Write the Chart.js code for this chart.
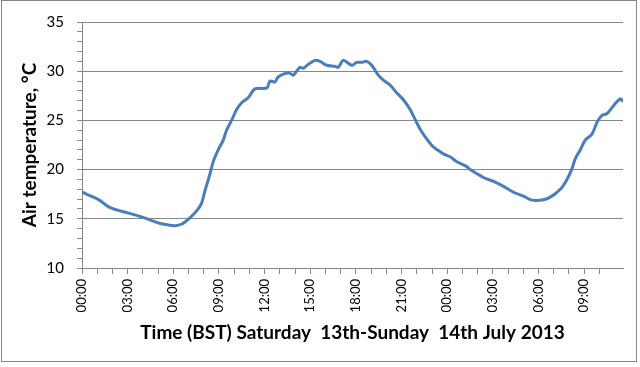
<!DOCTYPE html>
<html>
<head>
<meta charset="utf-8">
<script src="https://cdn.jsdelivr.net/npm/chart.js@4/dist/chart.umd.min.js"></script>
<style>
  html, body { margin: 0; padding: 0; background: #fff; }
  #wrap { width: 640px; height: 367px; position: relative; }
</style>
</head>
<body>
<div id="wrap"><canvas id="temp-chart"></canvas></div>
<script>
// hours since 00:00 Saturday 13th July 2013 (BST)
const hours = [
  0, 1.03, 1.9, 3.0, 4.1, 4.98, 6.08, 6.6, 7.09, 7.53, 7.86, 8.07, 8.4, 8.62, 8.95,
  9.28, 9.5, 9.83, 10.16, 10.49, 10.92, 11.36, 12.15, 12.35, 12.68, 12.88, 13.22,
  13.66, 13.88, 14.32, 14.54, 14.87, 15.31, 15.64, 16.08, 16.62, 16.84, 17.17,
  17.72, 18.05, 18.38, 18.71, 19.04, 19.47, 19.8, 20.24, 20.68, 21.12, 21.56,
  21.89, 22.22, 22.66, 23.09, 23.75, 24.19, 24.63, 25.29, 25.51, 26.38, 27.04,
  27.7, 28.36, 29.01, 29.57, 30.22, 30.77, 31.43, 31.87, 32.2, 32.41, 32.74,
  33.07, 33.51, 33.84, 34.17, 34.5, 34.93, 35.38, 35.55
];
// air temperature, degrees C
const temps = [
  17.7, 17.0, 16.1, 15.6, 15.1, 14.6, 14.3, 14.5, 15.1, 15.8, 16.6, 17.8, 19.5, 20.8, 22.0,
  23.0, 24.0, 25.0, 26.1, 26.8, 27.3, 28.2, 28.3, 29.0, 28.9, 29.4, 29.7,
  29.8, 29.6, 30.4, 30.3, 30.7, 31.1, 31.0, 30.6, 30.5, 30.4, 31.1,
  30.6, 30.9, 30.9, 31.0, 30.6, 29.6, 29.1, 28.6, 27.8, 27.1, 26.1,
  25.1, 24.1, 23.1, 22.3, 21.6, 21.3, 20.8, 20.3, 20.0, 19.2, 18.8,
  18.3, 17.7, 17.3, 16.9, 16.9, 17.2, 18.0, 19.0, 20.1, 21.1, 22.0,
  23.0, 23.6, 24.8, 25.5, 25.7, 26.5, 27.2, 26.9
];
const tickLabels = ['00:00', '03:00', '06:00', '09:00', '12:00', '15:00', '18:00', '21:00',
  '00:00', '03:00', '06:00', '09:00'];

const xMax = 35.55;
const font = 'Lato';

const frame = {
  id: 'frame',
  afterDraw(chart) {
    const c = chart.ctx;
    c.save();
    c.strokeStyle = '#878787';
    c.lineWidth = 1;
    c.strokeRect(1.5, 0.5, 635, 361);
    c.restore();
  }
};

const ctx = document.getElementById('temp-chart').getContext('2d');
new Chart(ctx, {
  type: 'line',
  data: {
    datasets: [{
      data: hours.map((h, i) => ({ x: h, y: temps[i] })),
      borderColor: '#4a7ebb',
      borderWidth: 3,
      pointRadius: 0,
      tension: 0.3,
      fill: false
    }]
  },
  options: {
    responsive: true,
    maintainAspectRatio: false,
    animation: false,
    layout: { padding: { left: 0, top: 18, right: 17, bottom: 0 } },
    plugins: { legend: { display: false }, tooltip: { enabled: false } },
    scales: {
      x: {
        type: 'linear',
        min: 0,
        max: xMax,
        afterFit(scale) { scale.height = 99; },
        afterBuildTicks(scale) {
          scale.ticks = scale.ticks.filter(t => Number.isInteger(t.value));
        },
        ticks: {
          stepSize: 1,
          autoSkip: false,
          minRotation: 90,
          maxRotation: 90,
          padding: 5,
          color: '#000',
          font: { family: font, size: 13 },
          callback: v => (v % 3 === 0 ? tickLabels[v / 3] : '')
        },
        grid: { drawOnChartArea: false, color: '#878787', tickLength: 6 },
        border: { display: true, color: '#878787' },
        title: {
          display: true,
          text: 'Time (BST) Saturday  13th-Sunday  14th July 2013',
          color: '#000',
          font: { family: font, size: 19, weight: 'bold' },
          padding: { top: 0, bottom: 23 }
        }
      },
      y: {
        min: 10,
        max: 35,
        afterFit(scale) { scale.width = 82; },
        ticks: {
          stepSize: 1,
          autoSkip: false,
          padding: 13,
          color: '#000',
          font: { family: font, size: 15 },
          callback: v => (v % 5 === 0 ? String(v) : '')
        },
        grid: {
          color: c => (c.tick && c.tick.value % 5 === 0 ? '#878787' : 'rgba(0,0,0,0)'),
          tickColor: '#878787',
          tickLength: 5
        },
        border: { display: true, color: '#878787' },
        title: {
          display: true,
          text: 'Air temperature, °C',
          color: '#000',
          font: { family: font, size: 19, weight: 'bold' },
          padding: { top: 18, bottom: 0 }
        }
      }
    }
  },
  plugins: [frame]
});
</script>
</body>
</html>
